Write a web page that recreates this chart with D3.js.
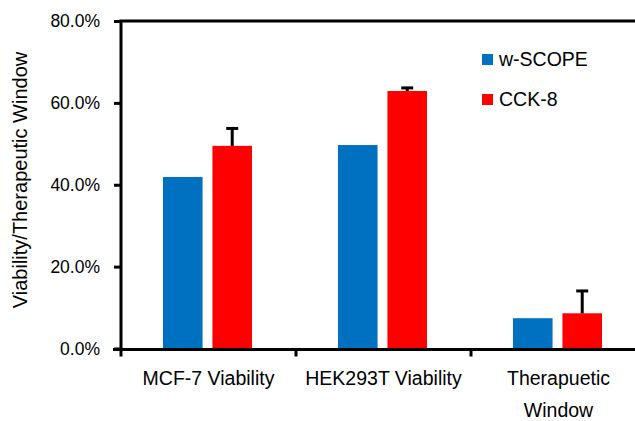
<!DOCTYPE html>
<html><head><meta charset="utf-8">
<script src="https://cdn.jsdelivr.net/npm/d3@7"></script>
<style>body{margin:0;background:#fff}svg{display:block}text{font-family:"Liberation Sans",Arial,sans-serif;fill:#000}</style>
</head><body>
<svg id="c" width="635" height="421"></svg>
<script>
const categories = ["MCF-7 Viability", "HEK293T Viability", "Therapuetic Window"];
const seriesNames = ["w-SCOPE", "CCK-8"];
const wScope = [41.9, 49.7, 7.4];
const cck8 = [49.5, 62.9, 8.6];
const cck8Err = [4.5, 1.0, 5.7];
const yTicks = [0, 20, 40, 60, 80];
const colors = ["#0070C0", "#FF0000"];

const svg = d3.select("#c");
const x0 = 121, yBottom = 348.5, yTop = 21;
const x = d3.scaleBand().domain(categories).range([x0, x0 + 175 * 3]).padding(0);
const y = d3.scaleLinear().domain([0, 80]).range([yBottom, yTop]);
const inner = d3.scaleBand().domain(seriesNames).range([42, 131]).paddingInner(0.2);

const data = categories.map((c, i) => ({c, vals: [wScope[i], cck8[i]], err: [0, cck8Err[i]]}));

// bars
const g = svg.append("g");
data.forEach(d => {
  d.vals.forEach((v, j) => {
    g.append("rect")
      .attr("x", x(d.c) + inner(seriesNames[j]))
      .attr("width", inner.bandwidth())
      .attr("y", y(v))
      .attr("height", y(0) - y(v))
      .attr("fill", colors[j]);
    if (d.err[j] > 0) {
      const cx = x(d.c) + inner(seriesNames[j]) + inner.bandwidth() / 2;
      g.append("line").attr("x1", cx).attr("x2", cx)
        .attr("y1", y(v)).attr("y2", y(v + d.err[j]))
        .attr("stroke", "#000").attr("stroke-width", 3);
      g.append("line").attr("x1", cx - 6).attr("x2", cx + 6)
        .attr("y1", y(v + d.err[j]) + 1).attr("y2", y(v + d.err[j]) + 1)
        .attr("stroke", "#000").attr("stroke-width", 3);
    }
  });
});

// y axis
const yAxis = d3.axisLeft(y).tickValues(yTicks).tickSize(7).tickPadding(14)
  .tickFormat(d => d.toFixed(1) + "%");
const ya = svg.append("g").attr("transform", `translate(${x0},0)`).call(yAxis);
ya.select(".domain").attr("stroke", "#000").attr("stroke-width", 3).attr("d", `M0,${yTop}V${yBottom}`);
ya.selectAll(".tick line").attr("stroke", "#000").attr("stroke-width", 3);
ya.selectAll(".tick text").style("font-size", "17.5px").attr("fill", "#000").attr("font-family", null);

// top frame line
svg.append("line").attr("x1", x0 - 1.5).attr("x2", 640).attr("y1", yTop).attr("y2", yTop)
  .attr("stroke", "#000").attr("stroke-width", 3);

// x axis
const xAxis = d3.axisBottom(x).tickValues([]).tickSizeOuter(0);
const xa = svg.append("g").attr("transform", `translate(0,${yBottom + 1})`).call(xAxis);
xa.select(".domain").attr("stroke", "#000").attr("stroke-width", 3).attr("d", `M${x0 - 8},0H640`);
[0, 1, 2].forEach(i => {
  const xx = x0 + i * x.bandwidth();
  xa.append("line").attr("x1", xx).attr("x2", xx).attr("y1", 0).attr("y2", 7)
    .attr("stroke", "#000").attr("stroke-width", 3);
});

// category labels
const labelLines = [["MCF-7 Viability"], ["HEK293T Viability"], ["Therapuetic", "Window"]];
categories.forEach((c, i) => {
  const t = svg.append("text").attr("text-anchor", "middle")
    .attr("x", x(c) + x.bandwidth() / 2).attr("y", 385).style("font-size", "19.5px");
  labelLines[i].forEach((ln, k) => {
    t.append("tspan").attr("x", x(c) + x.bandwidth() / 2).attr("y", 385 + k * 32).text(ln);
  });
});

// y label
svg.append("text").attr("transform", "translate(27,180) rotate(-90)")
  .attr("text-anchor", "middle").style("font-size", "20px")
  .text("Viability/Therapeutic Window");

// legend
seriesNames.forEach((s, j) => {
  const ly = 54 + j * 40;
  svg.append("rect").attr("x", 482).attr("y", ly).attr("width", 11).attr("height", 11).attr("fill", colors[j]);
  svg.append("text").attr("x", 499).attr("y", ly + 12).style("font-size", "19.5px").text(s);
});
</script>
</body></html>
